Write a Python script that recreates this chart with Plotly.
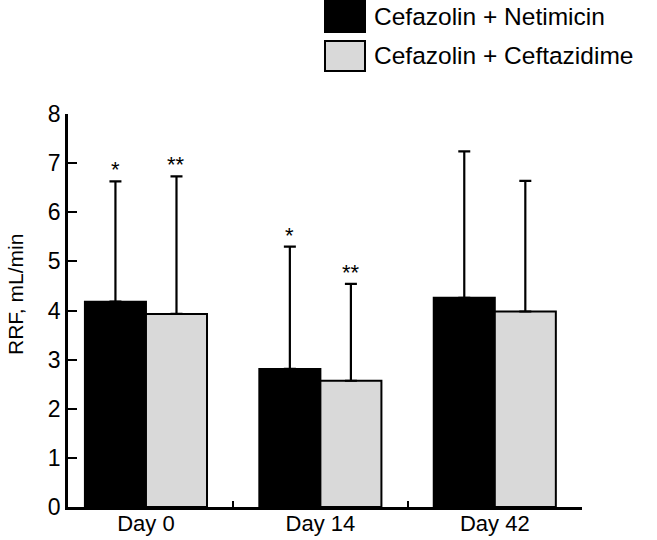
import plotly.graph_objects as go

categories = ["Day 0", "Day 14", "Day 42"]
series_names = ["Cefazolin + Netimicin", "Cefazolin + Ceftazidime"]
netimicin_mean = [4.18, 2.81, 4.26]
netimicin_sd = [2.45, 2.49, 2.98]
ceftazidime_mean = [3.93, 2.57, 3.98]
ceftazidime_sd = [2.80, 1.97, 2.66]
netimicin_marks = ["*", "*", ""]
ceftazidime_marks = ["**", "**", ""]
y_ticks = [0, 1, 2, 3, 4, 5, 6, 7, 8]
y_title = "RRF, mL/min"

W, H = 657, 540
L, R, T, B = 68, 75, 114, 33
FONT = "Liberation Sans, Arial, Helvetica, sans-serif"

fig = go.Figure()
fig.add_trace(go.Bar(
    x=categories, y=netimicin_mean, name=series_names[0],
    marker=dict(color="#000000", line=dict(color="#000000", width=2)),
    error_y=dict(type="data", array=netimicin_sd, symmetric=False,
                 arrayminus=[0, 0, 0], color="#000000", thickness=2.2, width=6),
    showlegend=False,
))
fig.add_trace(go.Bar(
    x=categories, y=ceftazidime_mean, name=series_names[1],
    marker=dict(color="#d9d9d9", line=dict(color="#000000", width=2)),
    error_y=dict(type="data", array=ceftazidime_sd, symmetric=False,
                 arrayminus=[0, 0, 0], color="#000000", thickness=2.2, width=6),
    showlegend=False,
))

# significance markers above error bars
off = 0.175
for i, c in enumerate(categories):
    if netimicin_marks[i]:
        fig.add_annotation(x=i - off, y=netimicin_mean[i] + netimicin_sd[i],
                           xref="x", yref="y", text=netimicin_marks[i],
                           showarrow=False, yanchor="bottom", yshift=-3,
                           font=dict(size=22, color="#000", family=FONT))
    if ceftazidime_marks[i]:
        fig.add_annotation(x=i + off, y=ceftazidime_mean[i] + ceftazidime_sd[i],
                           xref="x", yref="y", text=ceftazidime_marks[i],
                           showarrow=False, yanchor="bottom", yshift=-3,
                           font=dict(size=22, color="#000", family=FONT))

# pixel -> paper helpers
pw, ph = W - L - R, H - T - B
def px(xp):
    return (xp - L) / pw
def py(yp):
    return (H - B - yp) / ph

# manual legend (large swatches)
legend_rows = [(1, 32, "#000000"), (41, 71, "#d9d9d9")]
for (y0, y1, col), name in zip(legend_rows, series_names):
    fig.add_shape(type="rect", xref="paper", yref="paper",
                  x0=px(325), x1=px(365), y0=py(y1), y1=py(y0),
                  fillcolor=col, line=dict(color="#000", width=2))
    fig.add_annotation(xref="paper", yref="paper", x=px(372), y=py((y0 + y1) / 2),
                       text=name, showarrow=False, xanchor="left", yanchor="middle",
                       font=dict(size=24.5, color="#000", family=FONT))

# y-axis title
fig.add_annotation(xref="paper", yref="paper", x=px(15), y=py(295), text=y_title,
                   textangle=-90, showarrow=False, xanchor="center", yanchor="middle",
                   font=dict(size=21, color="#000", family=FONT))

fig.update_layout(
    width=W, height=H,
    margin=dict(l=L, r=R, t=T, b=B),
    paper_bgcolor="white", plot_bgcolor="white",
    barmode="group", bargap=0.30, bargroupgap=0,
    font=dict(family=FONT, color="#000"),
    xaxis=dict(
        type="category", range=[-0.447, 2.5], automargin=False,
        tickson="boundaries", ticks="inside", ticklen=6, tickwidth=2, tickcolor="#000",
        showline=True, linecolor="#000", linewidth=2.5, showgrid=False,
        tickfont=dict(size=22, family=FONT, color="#000"),
        ticklabelstandoff=-5,
    ),
    yaxis=dict(
        range=[0, 8], tickvals=y_ticks, ticks="inside", ticklen=9, tickwidth=2,
        tickcolor="#000", showline=True, linecolor="#000", linewidth=2.5,
        showgrid=False, zeroline=False, automargin=False,
        tickfont=dict(size=23, family=FONT, color="#000"),
    ),
)

fig.write_html("out.html", config={"displayModeBar": False},
               post_script="document.body.style.margin='0';document.body.style.overflow='hidden';")
